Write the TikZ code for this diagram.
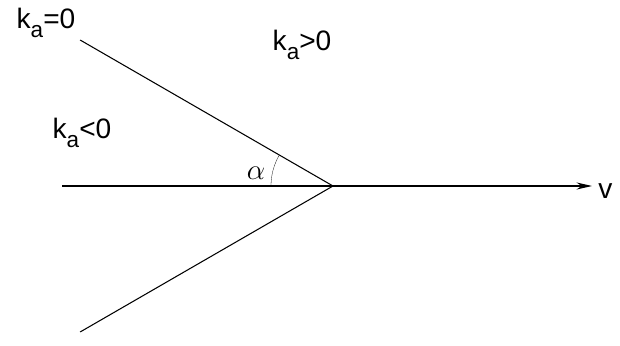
\documentclass[tikz,border=0pt]{standalone}
\usepackage{fontspec}
\setmainfont{Liberation Sans}
\usetikzlibrary{arrows.meta,calc}
\newcommand{\ksub}{k\raisebox{-0.3em}{\fontsize{16}{16}\selectfont a}}
\begin{document}
\begin{tikzpicture}[
	line/.style={ line width=0.75pt },
	lbl/.style={ inner sep=0pt, font=\fontsize{20}{22}\selectfont }
]

\useasboundingbox (0,0) rectangle (15.5,8.625);
\coordinate (o) at (8.325,3.975);
\coordinate (u) at ($(o)+(150:7.3)$);
\coordinate (d) at ($(o)+(210:7.3)$);
\coordinate (l) at (1.55,3.975);
\coordinate (r) at (14.8,3.975);
\draw[line] (u) -- (o) -- (d);
\draw[line] (l) -- (o);
\draw[line,-{Stealth[length=11pt,width=5pt]}] (o) -- (r);
\draw[very thin] ($(o)+(180:1.55)$) arc (180:150:1.55cm);
\node[lbl,anchor=west] at (14.95,3.85) (v) {v};
\node[lbl] at (6.4,4.3) (alpha) {$\alpha$};
\node[lbl] at (1.15,8.05) (k0) {\ksub=0};
\node[lbl] at (7.55,7.5) (kp) {\ksub>0};
\node[lbl] at (2.05,5.3) (kn) {\ksub<0};

\end{tikzpicture}
\end{document}
